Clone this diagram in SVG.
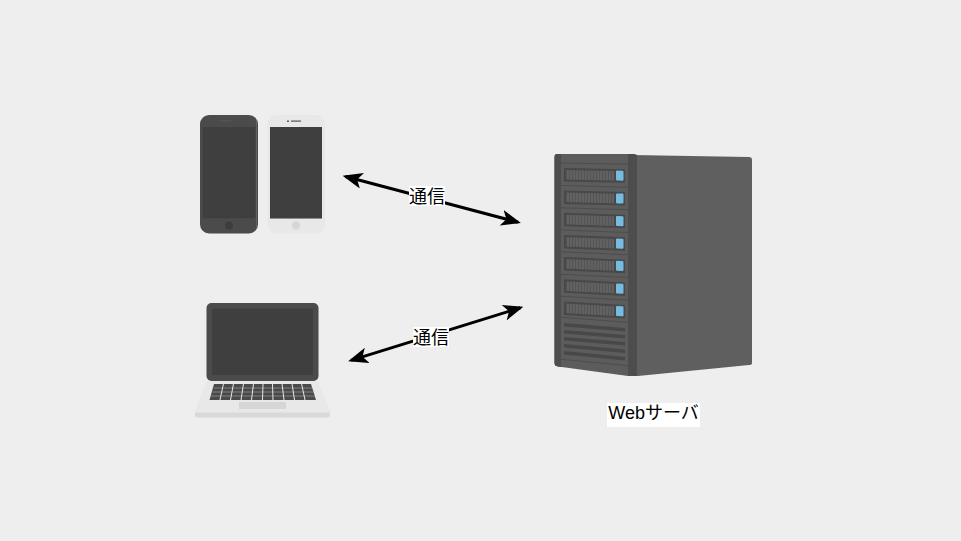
<svg xmlns="http://www.w3.org/2000/svg" width="961" height="541" viewBox="0 0 961 541">
<style>
.lbl{font-family:"Liberation Sans","Noto Sans CJK JP",sans-serif;font-size:18px;fill:#000;text-anchor:middle}
.bg{fill:#fff}
.conn{fill:none;stroke:#000;stroke-width:3;marker-start:url(#ah);marker-end:url(#ah)}
.scr{fill:#3f3f3f}
.slot{fill:#484848}
.led{fill:#76bbe0}
.key{fill:#4a4a4a}
</style>
<defs>
<marker id="ah" viewBox="0 0 20 16" refX="17" refY="8" markerWidth="20" markerHeight="16" markerUnits="userSpaceOnUse" orient="auto-start-reverse">
<path d="M0 0L20 8L0 16L5 8Z" fill="#000"/>
</marker>
<g id="bay">
<rect x="0" y="0" width="61" height="13.500" class="slot"/>
<rect x="2" y="2" width="48" height="9.500" fill="#555"/>
<path d="M4 2V11.500M7 2V11.500M10 2V11.500M13 2V11.500M16 2V11.500M19 2V11.500M22 2V11.500M25 2V11.500M28 2V11.500M31 2V11.500M34 2V11.500M37 2V11.500M40 2V11.500M43 2V11.500M46 2V11.500M49 2V11.500" stroke="#6a6a6a" stroke-width="1.200"/>
<rect x="52" y="1.500" width="7.500" height="10" rx="1" class="led"/>
<path d="M-3 -5H64" stroke="#4d4d4d" stroke-width="1" fill="none"/>
</g>
</defs>
<rect width="961" height="541" fill="#eeeeee"/>

<g id="connectors">
<path class="conn" d="M345.500 176.500L518 222.200"/>
<path class="conn" d="M520.500 307.700L351 360.400"/>
</g>

<g id="phone-dark">
<rect x="200" y="115" width="58" height="118.500" rx="9" fill="#4b4b4b"/>
<path d="M256.500 120V229" stroke="#626262" stroke-width="1" fill="none"/>
<rect x="202.700" y="127" width="52.600" height="91.300" class="scr"/>
<rect x="220" y="120.500" width="11" height="0.800" fill="#5f5f5f"/>
<circle cx="229" cy="225.500" r="4" fill="#3d3d3d"/>
</g>
<g id="phone-light">
<rect x="267.500" y="115" width="57.500" height="118.500" rx="9" fill="#e8e8e8"/>
<rect x="270" y="127" width="52" height="91.500" class="scr"/>
<rect x="270" y="218" width="52" height="1" fill="#8c8c8c"/>
<rect x="287" y="120.500" width="2" height="1.500" fill="#555"/>
<rect x="291" y="120.500" width="10" height="1.200" fill="#555"/>
<circle cx="296" cy="225.500" r="4" fill="#d6d6d6"/>
</g>

<g id="laptop">
<path d="M207 381H318L330 411V415Q330 417.500 327 417.500H198Q195 417.500 195 415V411Z" fill="#e8e8e8"/>
<path d="M195 412.500H330V415Q330 417.500 327 417.500H198Q195 417.500 195 415Z" fill="#d9d9d9"/>
<rect x="206.500" y="303" width="112" height="78" rx="5" fill="#4b4b4b"/>
<rect x="212" y="308.500" width="101" height="66.500" rx="1" class="scr"/>
<path class="key" d="M214 384H311L316 400H209.500Z"/>
<path d="M214 388H312M212.500 392H313.500M211 396H315" stroke="#8f8f8f" stroke-width="0.800" fill="none"/>
<path d="M223.500 383.500L220 400M233.500 383.500L230.500 400M243.500 383.500L241 400M253.500 383.500L251.500 400M263 383.500L262.500 400M272.500 383.500L273 400M282 383.500L284 400M292 383.500L294.500 400M301.500 383.500L305 400" stroke="#e8e8e8" stroke-width="1" fill="none"/>
<rect x="239" y="402" width="47" height="7" fill="#d6d6d6"/>
</g>

<g id="server">
<path d="M632 155L749 157Q752 157 752 160V363Q752 365 749 365L638 376H632Z" fill="#5f5f5f"/>
<path d="M557 154H632L637 155V376H628L558 366.500Q554.500 366 554.500 363V157Q554.500 154 557 154Z" fill="#5c5c5c"/>
<path d="M557 154H561V367L558 366.500Q554.500 366 554.500 363V157Q554.500 154 557 154ZM628 154H634L637 155V375.700L628 375.700Z" fill="#4d4d4d"/>
<use href="#bay" transform="translate(564 168) skewY(1.200)"/>
<use href="#bay" transform="translate(564 190.500) skewY(1.500)"/>
<use href="#bay" transform="translate(564 212.800) skewY(1.800)"/>
<use href="#bay" transform="translate(564 235) skewY(2.200)"/>
<use href="#bay" transform="translate(564 257) skewY(2.500)"/>
<use href="#bay" transform="translate(564 279.300) skewY(2.900)"/>
<use href="#bay" transform="translate(564 301.500) skewY(3.300)"/>
<path d="M561 317.300L628 322.300M561 359.300L628 365.700" stroke="#4d4d4d" stroke-width="1" fill="none"/>
<path class="slot" d="M564 323L625 328V331.500L564 326.500ZM564 330L625 335V338.500L564 333.500ZM564 337L625 342V345.500L564 340.500ZM564 344L625 349.500V353L564 347.500ZM564 351L625 357V360.500L564 354.500Z"/>
</g>

<g id="label-1"><rect x="409" y="186" width="36" height="20" class="bg"/><text x="427" y="202.500" class="lbl">通信</text></g>
<g id="label-2"><rect x="413" y="327" width="36" height="20" class="bg"/><text x="431" y="343.500" class="lbl">通信</text></g>
<g id="label-web"><rect x="607" y="403" width="93" height="24" class="bg"/><text x="653.500" y="419" class="lbl">Webサーバ</text></g>
</svg>
